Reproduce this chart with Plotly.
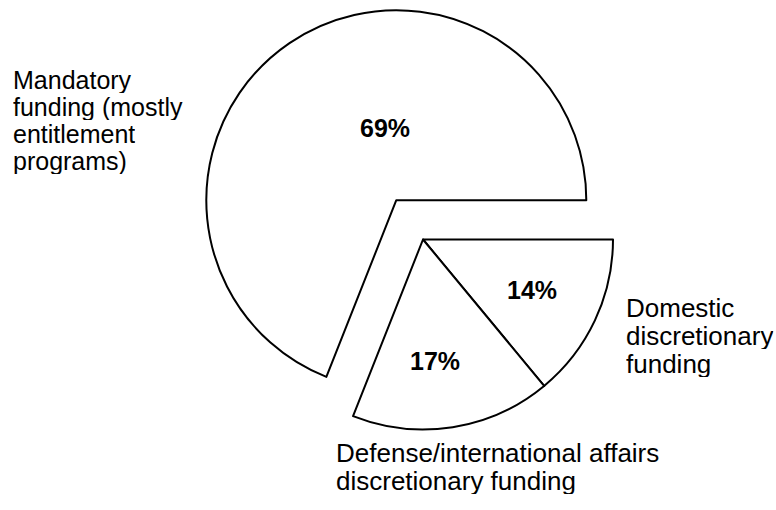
import plotly.graph_objects as go

# Data
categories = ["Domestic discretionary funding",
              "Defense/international affairs discretionary funding",
              "Mandatory funding (mostly entitlement programs)"]
shares = [14, 17, 69]
pulls = [0, 0, 0.25]

# label lines (outside text)
label_lines = [
    ["Domestic", "discretionary", "funding"],
    ["Defense/international affairs", "discretionary funding"],
    ["Mandatory", "funding (mostly", "entitlement", "programs)"],
]

W, H = 776, 510
FONT = "Liberation Sans, Arial, Helvetica, sans-serif"

def px(x):
    return x / W

def py(y):
    return 1 - y / H

fig = go.Figure()
fig.add_trace(go.Pie(
    labels=categories,
    values=shares,
    pull=pulls,
    sort=False,
    direction="clockwise",
    rotation=90,
    textinfo="none",
    hoverinfo="label+percent",
    marker=dict(colors=["white"] * 3, line=dict(color="black", width=2)),
    domain=dict(x=[px(423 - 300), px(423 + 300)], y=[py(477), py(2)]),
    showlegend=False,
))

annotations = []
# percent labels inside slices
pct_pos = [(532, 290), (435, 361), (385, 128)]
for v, (x, y) in zip(shares, pct_pos):
    annotations.append(dict(
        x=px(x), y=py(y), xref="paper", yref="paper",
        text=f"<b>{v}%</b>", showarrow=False,
        xanchor="center", yanchor="middle",
        font=dict(family=FONT, size=25, color="black")))

# outside labels: left x, first baseline, line spacing, font size
label_pos = [(625, 315, 28, 26), (335, 460, 28, 26), (12, 88, 27, 25)]
for lines, (x0, b0, dy, fs) in zip(label_lines, label_pos):
    for i, line in enumerate(lines):
        annotations.append(dict(
            x=px(x0), y=py(b0 + i * dy - 8), xref="paper", yref="paper",
            text=line, showarrow=False, height=dy - 1, borderpad=0,
            xanchor="left", yanchor="middle",
            font=dict(family=FONT, size=fs, color="black")))

fig.update_layout(
    width=W, height=H,
    margin=dict(l=0, r=0, t=0, b=0),
    paper_bgcolor="white", plot_bgcolor="white",
    annotations=annotations,
)

fig.write_html("out.html",
               config={"displayModeBar": False},
               post_script="document.body.style.margin='0';document.body.style.padding='0';")
